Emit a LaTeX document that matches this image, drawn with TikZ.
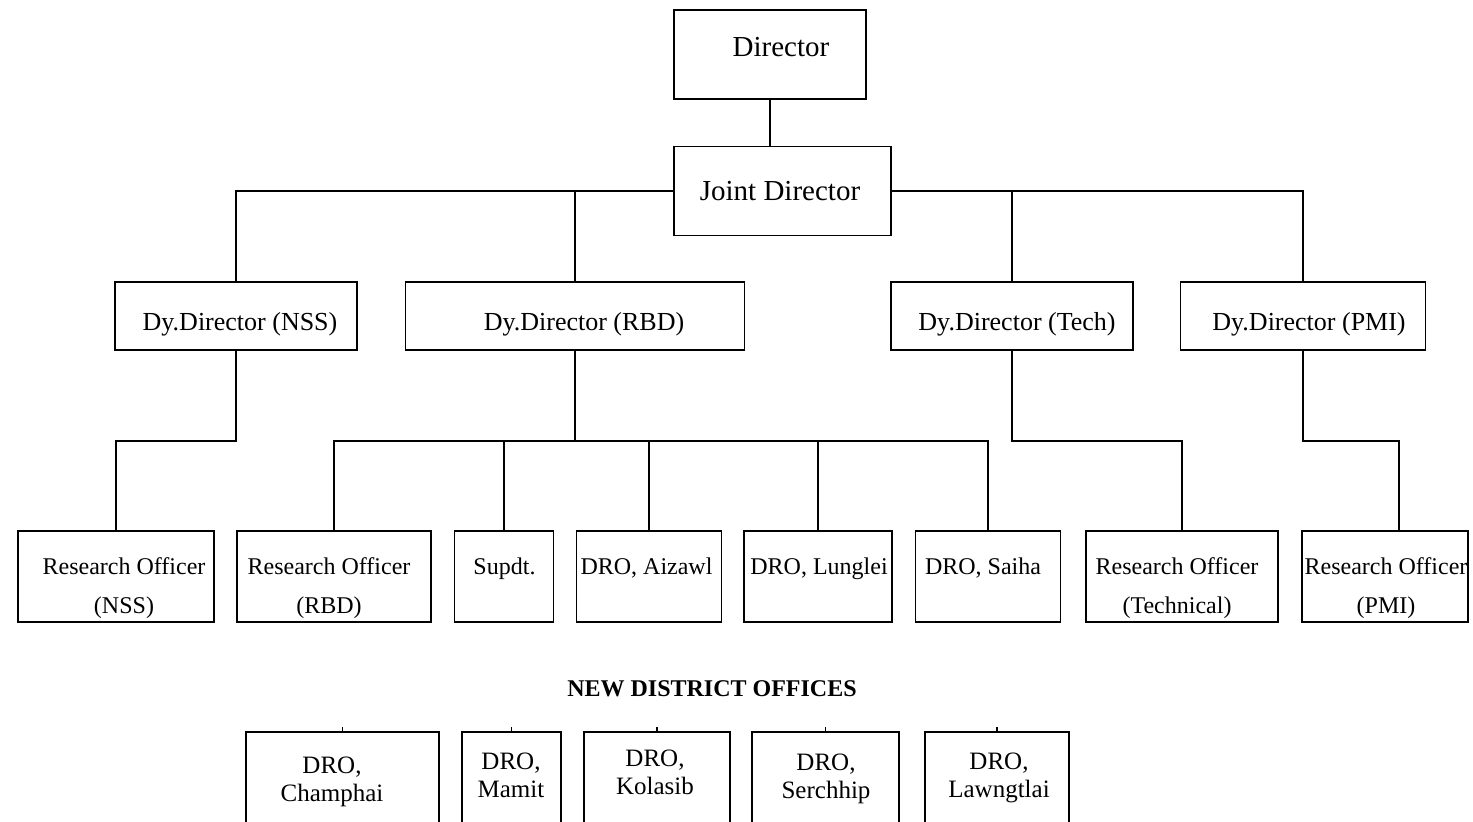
\documentclass[tikz,border=0pt]{standalone}
\usepackage{fontspec}
\setmainfont{Liberation Serif}
\begin{document}
\begin{tikzpicture}[x=1pt,y=-1pt,
  box/.style={draw, line width=1.9pt, inner sep=0pt, rectangle},
  wire/.style={line width=1.9pt},
  txt/.style={inner sep=0pt, anchor=base, align=center},
  topfont/.style={font=\fontsize{29}{35}\selectfont},
  dyfont/.style={font=\fontsize{26}{31}\selectfont},
  offfont/.style={font=\fontsize{24}{39}\selectfont},
  newfont/.style={font=\fontsize{25}{28}\selectfont},
]
\useasboundingbox (0,0) rectangle (1473,822);
\clip (0,0) rectangle (1473,822);

% top of the hierarchy
\node[box, minimum width=192, minimum height=89] (dir) at (770,54.5) {};
\node[box, minimum width=217, minimum height=89] (jd) at (782.5,191) {};
\node[txt, topfont] (tdir) at (781,56.5) {Director};
\node[txt, topfont] (tjd) at (780,200.5) {Joint Director};

% deputy directors
\node[box, minimum width=242, minimum height=68] (nss) at (236,316) {};
\node[box, minimum width=339, minimum height=68] (rbd) at (575,316) {};
\node[box, minimum width=242, minimum height=68] (tech) at (1012,316) {};
\node[box, minimum width=245, minimum height=68] (pmi) at (1303,316) {};
\node[txt, dyfont] (tnss) at (240,330.5) {Dy.Director (NSS)};
\node[txt, dyfont] (trbd) at (584,330.5) {Dy.Director (RBD)};
\node[txt, dyfont] (ttech) at (1017,330.5) {Dy.Director (Tech)};
\node[txt, dyfont] (tpmi) at (1309,330.5) {Dy.Director (PMI)};

% officers (base anchor of a two-line label sits on its last line)
\node[box, minimum width=196, minimum height=91] (ro1) at (116,576.5) {};
\node[box, minimum width=194, minimum height=91] (ro2) at (334,576.5) {};
\node[box, minimum width=99,  minimum height=91] (sup) at (504,576.5) {};
\node[box, minimum width=145, minimum height=91] (aiz) at (649,576.5) {};
\node[box, minimum width=148, minimum height=91] (lun) at (818,576.5) {};
\node[box, minimum width=145, minimum height=91] (sai) at (988,576.5) {};
\node[box, minimum width=192, minimum height=91] (ro3) at (1182,576.5) {};
\node[box, minimum width=166, minimum height=91] (ro4) at (1385,576.5) {};
\node[txt, offfont] (tro1) at (124,613) {Research Officer\\(NSS)};
\node[txt, offfont] (tro2) at (329,613) {Research Officer\\(RBD)};
\node[txt, offfont] (tsup) at (504.5,574) {Supdt.};
\node[txt, offfont] (taiz) at (646.5,574) {DRO, Aizawl};
\node[txt, offfont] (tlun) at (819,574) {DRO, Lunglei};
\node[txt, offfont] (tsai) at (983,574) {DRO, Saiha};
\node[txt, offfont] (tro3) at (1177,613) {Research Officer\\(Technical)};
\node[txt, offfont] (tro4) at (1386,613) {Research Officer\\(PMI)};

% new district offices
\node[txt, font=\fontsize{24}{28}\selectfont\bfseries] (thead) at (712,696) {NEW DISTRICT OFFICES};
\node[box, minimum width=193, minimum height=120] (b1) at (342.5,792) {};
\node[box, minimum width=99,  minimum height=120] (b2) at (511.5,792) {};
\node[box, minimum width=146, minimum height=120] (b3) at (657,792) {};
\node[box, minimum width=147, minimum height=120] (b4) at (825.5,792) {};
\node[box, minimum width=144, minimum height=120] (b5) at (997,792) {};
\node[txt, newfont] (tb1) at (332,801.5) {DRO,\\Champhai};
\node[txt, newfont] (tb2) at (511,797.5) {DRO,\\Mamit};
\node[txt, newfont] (tb3) at (655,794.5) {DRO,\\Kolasib};
\node[txt, newfont] (tb4) at (826,798.5) {DRO,\\Serchhip};
\node[txt, newfont] (tb5) at (999,797.5) {DRO,\\Lawngtlai};
\foreach \b in {b1,b2,b3,b4,b5} {
  \coordinate (\b stub) at ([yshift=4pt]\b.north);
  \draw[wire, line width=1.2pt] (\b.north) -- (\b stub);
}

% connectors
\draw[wire] (dir.south) -- (dir.south |- jd.north);
\draw[wire] (jd.west) -| (nss.north);
\draw[wire] (rbd.north) -- (rbd.north |- jd.west);
\draw[wire] (jd.east) -| (pmi.north);
\draw[wire] (tech.north) -- (tech.north |- jd.east);

\draw[wire] (nss.south) -- ++(0,90) -| (ro1.north);
\coordinate (bus) at ([yshift=-90pt]rbd.south);
\draw[wire] (rbd.south) -- (bus);
\draw[wire] (ro2.north) |- (bus) -| (sai.north);
\draw[wire] (sup.north) -- (sup.north |- bus);
\draw[wire] (aiz.north) -- (aiz.north |- bus);
\draw[wire] (lun.north) -- (lun.north |- bus);
\draw[wire] (tech.south) -- ++(0,90) -| (ro3.north);
\draw[wire] (pmi.south) -- ++(0,90) -| ([xshift=14pt]ro4.north);
\end{tikzpicture}
\end{document}
